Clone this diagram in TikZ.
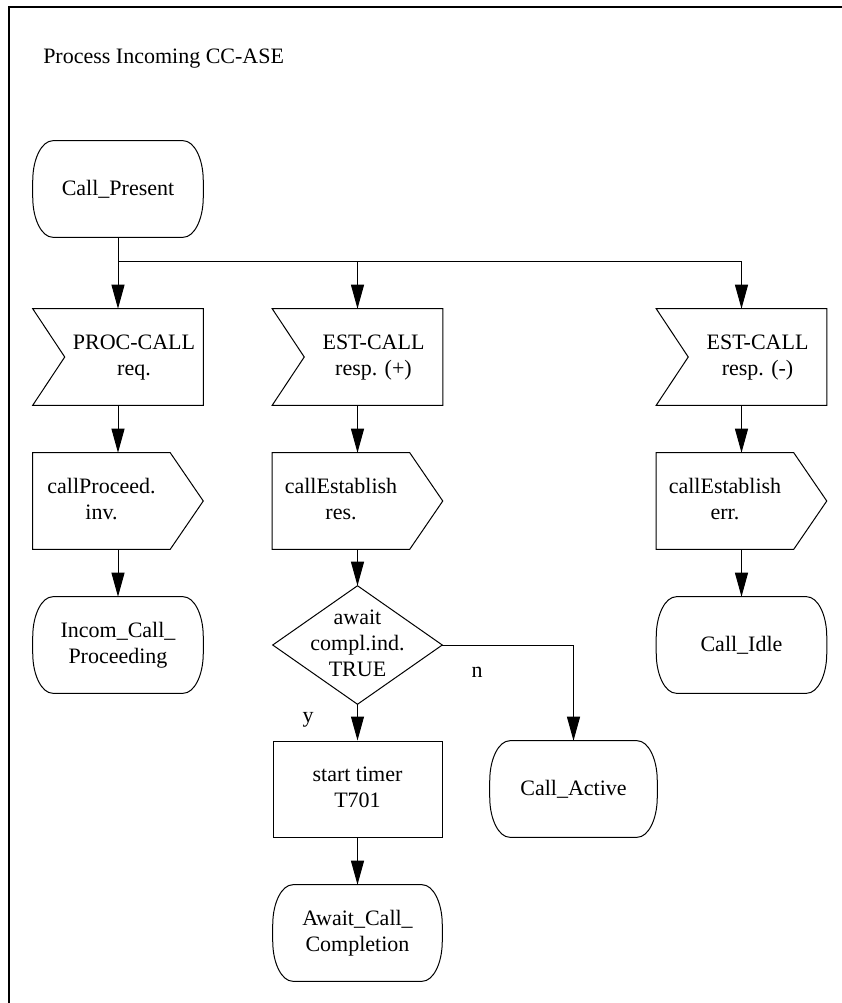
\documentclass[tikz,border=0pt]{standalone}
\usepackage{fontspec}
\setmainfont{Liberation Serif}
\usetikzlibrary{calc,arrows.meta}
\newcommand\drawterm[1]{%
\draw[outline] ($(#1.north west)+(20,0)$) -- ($(#1.north east)+(-20,0)$)
  .. controls +(11,0) and +(0,-22) .. ($(#1.north east)+(0,40)$)
  -- ($(#1.south east)+(0,-40)$)
  .. controls +(0,22) and +(11,0) .. ($(#1.south east)+(-20,0)$)
  -- ($(#1.south west)+(20,0)$)
  .. controls +(-11,0) and +(0,22) .. ($(#1.south west)+(0,-40)$)
  -- ($(#1.north west)+(0,40)$)
  .. controls +(0,-22) and +(-11,0) .. ($(#1.north west)+(20,0)$) -- cycle;}
\newcommand\drawinput[1]{%
\draw[outline] (#1.north west) -- (#1.north east) -- (#1.south east) -- (#1.south west) -- ($(#1.west)+(32,0)$) -- cycle;}
\newcommand\drawoutput[1]{%
\draw[outline] (#1.north west) -- ($(#1.north east)+(-33,0)$) -- (#1.east) -- ($(#1.south east)+(-33,0)$) -- (#1.south west) -- cycle;}
\newcommand\twol[2]{\begin{tabular}{@{}c@{}}#1\\#2\end{tabular}}
\begin{document}
\begin{tikzpicture}[x=0.75pt,y=-0.75pt,
  every node/.style={font=\fontsize{16.5}{19.5}\selectfont, inner sep=0pt},
  box/.style={draw=none, minimum width=127.5pt, minimum height=72pt, inner sep=0pt},
  conn/.style={line width=0.75pt, -{Triangle[length=18pt,width=9.75pt]}},
  plain/.style={line width=0.75pt},
  outline/.style={line width=0.75pt, line join=miter},
  frame/.style={line width=1.7pt}]
\useasboundingbox (0,0) rectangle (842,1003);
% frame
\draw[frame] (9,1003) -- (9,7) -- (842,7);
% title
\node[anchor=base west] (title) at (43,63) {Process Incoming CC-ASE};
% row 1
\node[box] (cp) at (118,189) {Call\_Present};
% row 2 (input signals)
\node[box] (in1) at (118,357) {\hspace*{24pt}\twol{PROC-CALL}{req.}};
\node[box] (in2) at (357.5,357) {\hspace*{24pt}\twol{EST-CALL}{resp. (+)}};
\node[box] (in3) at (741.5,357) {\hspace*{24pt}\twol{EST-CALL}{resp. (-)}};
% row 3 (output signals)
\node[box] (out1) at (118,501) {\twol{callProceed.}{inv.}\hspace*{24.75pt}};
\node[box] (out2) at (357.5,501) {\twol{callEstablish}{res.}\hspace*{24.75pt}};
\node[box] (out3) at (741.5,501) {\twol{callEstablish}{err.}\hspace*{24.75pt}};
% row 4
\node[box] (t1) at (118,645) {\twol{Incom\_Call\_}{Proceeding}};
\node[box, minimum width=126.75pt, minimum height=88.5pt] (dia) at (357.5,645)
  {\begin{tabular}{@{}c@{}}await\\compl.ind.\\TRUE\end{tabular}};
\node[box] (t3) at (741.5,645) {Call\_Idle};
% row 5
\node[box, draw, line width=0.75pt, minimum width=126.75pt] (tm) at (357.5,789) {\twol{start timer}{T701}};
\node[box, minimum width=125.25pt] (ca) at (573.5,789) {Call\_Active};
% row 6
\node[box, minimum width=126.75pt] (aw) at (357.5,933) {\twol{Await\_Call\_}{Completion}};
% labels
\node (nlab) at (477,672) {n};
\node (ylab) at (308,720) {y};
% outlines
\drawterm{cp}
\drawterm{t1}
\drawterm{t3}
\drawterm{ca}
\drawterm{aw}
\drawinput{in1}
\drawinput{in2}
\drawinput{in3}
\drawoutput{out1}
\drawoutput{out2}
\drawoutput{out3}
\draw[outline] (dia.north) -- (dia.east) -- (dia.south) -- (dia.west) -- cycle;
% connectors
\coordinate (br) at (118,261);
\draw[conn] (cp.south) -- (in1.north);
\draw[conn] (br) -| (in2.north);
\draw[conn] (br) -| (in3.north);
\draw[conn] (in1.south) -- (out1.north);
\draw[conn] (in2.south) -- (out2.north);
\draw[conn] (in3.south) -- (out3.north);
\draw[conn] (out1.south) -- (t1.north);
\draw[conn] (out2.south) -- (dia.north);
\draw[conn] (out3.south) -- (t3.north);
\draw[conn] (dia.south) -- (tm.north);
\draw[conn] (dia.east) -| (ca.north);
\draw[conn] (tm.south) -- (aw.north);
\end{tikzpicture}
\end{document}
